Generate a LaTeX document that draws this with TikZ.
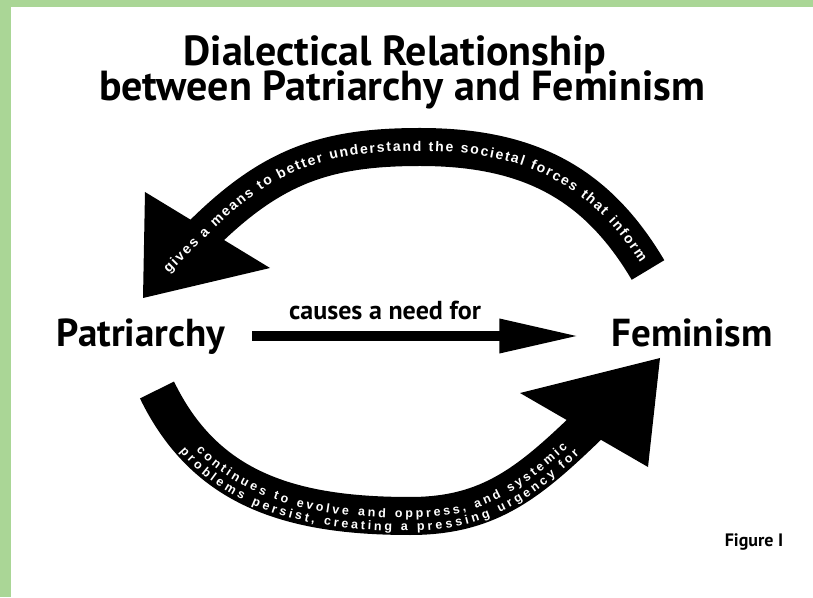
\documentclass[tikz,border=0pt]{standalone}
\usepackage{fontspec}
\setmainfont{PT Sans}
\newfontfamily\bandfont{Liberation Sans}
\usetikzlibrary{arrows.meta,decorations.text}

\definecolor{framegreen}{RGB}{170,214,150}

\tikzset{
  heading/.style={font=\bfseries\fontsize{42}{44}\selectfont, anchor=base, inner sep=0pt},
  concept/.style={font=\bfseries\fontsize{39}{42}\selectfont, inner sep=0pt,
    text height=30pt, text depth=9pt},
  band/.style={draw=black, line width=38pt},
  bandtext/.style 2 args={decorate, decoration={text along path, text color=white,
    text align={fit to path, left indent=#1, right indent=#2}}},
}

\begin{document}
\begin{tikzpicture}[x=1pt,y=1pt]
% frame
\fill[framegreen] (0,0) rectangle (813,597);
\fill[white] (11,0) rectangle (813,590);
\useasboundingbox (0,0) rectangle (813,597);

\node[heading] (title1) at (395,531) {Dialectical Relationship};
\node[heading] (title2) at (402,496) {between Patriarchy and Feminism};

\node[concept] (patriarchy) at (141,261) {Patriarchy};
\node[concept] (feminism) at (692,261) {Feminism};

\path[draw,line width=10pt,-{Triangle[length=80pt,width=32pt]},shorten <=27pt,shorten >=32pt]
  (patriarchy) -- (feminism);
\node[font=\bfseries\fontsize{26}{28}\selectfont, anchor=base] (need) at (385,277) {causes a need for};

% upper bend, feminism back to patriarchy
\coordinate (up-start) at (648,327);
\coordinate (up-end) at (200,360);
\path[band] (up-start) .. controls (597,413) and (530,450) .. (420,450)
  .. controls (325,450) and (271,431) .. (up-end);
\fill (145,405) -- (143,299) -- (270,329) -- cycle;
\path[bandtext={0pt}{12pt}, decoration={raise=-4pt,
  text={|\bandfont\bfseries\fontsize{14}{16}\selectfont|gives a means to better understand the societal forces that inform}}]
  (166,326) -- (207,367) .. controls (271,431) and (325,450) .. (420,450)
  .. controls (530,450) and (597,413) .. (650,327);

% lower bend, patriarchy on to feminism
\coordinate (low-start) at (157,207);
\coordinate (low-end) at (591,174);
\path[band] (low-start) .. controls (205,108) and (290,81) .. (410,81)
  .. controls (490,81) and (530,115) .. (low-end);
\fill (520,204) -- (660,239) -- (648,130) -- cycle;
\path[bandtext={72pt}{34pt}, decoration={raise=-2pt,
  text={|\bandfont\bfseries\fontsize{12.5}{14}\selectfont|continues to evolve and oppress, and systemic}}]
  (low-start) .. controls (205,108) and (290,81) .. (410,81)
  .. controls (490,81) and (530,115) .. (low-end);
\path[bandtext={62pt}{30pt}, decoration={raise=-15pt,
  text={|\bandfont\bfseries\fontsize{12.5}{14}\selectfont|problems persist, creating a pressing urgency for}}]
  (low-start) .. controls (205,108) and (290,81) .. (410,81)
  .. controls (490,81) and (530,115) .. (low-end);

\node[font=\bfseries\fontsize{18}{20}\selectfont, anchor=base] (figlabel) at (754,51) {Figure I};
\end{tikzpicture}
\end{document}
